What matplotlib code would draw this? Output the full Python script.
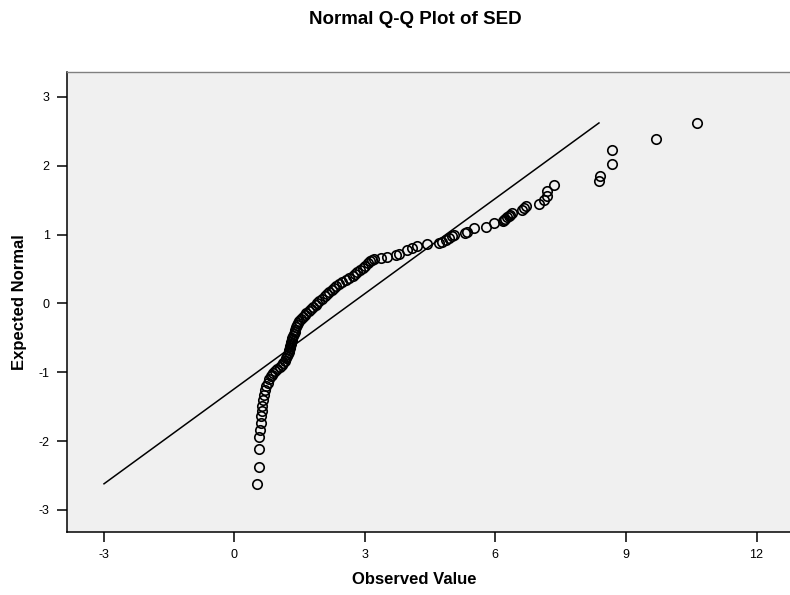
import matplotlib
matplotlib.use("Agg")
import matplotlib.pyplot as plt

plt.rcParams['font.family'] = ['Liberation Sans', 'DejaVu Sans']

title = "Normal Q-Q Plot of SED"
x_label = "Observed Value"
y_label = "Expected Normal"
x_ticks = [-3, 0, 3, 6, 9, 12]
y_ticks = [-3, -2, -1, 0, 1, 2, 3]

# lower tail (observed, expected normal)
obs_low = [0.53, 0.57, 0.58, 0.58, 0.60, 0.61, 0.62, 0.63, 0.64, 0.66, 0.69, 0.71,
           0.74, 0.77, 0.81, 0.85]
exp_low = [-2.62, -2.38, -2.11, -1.94, -1.84, -1.73, -1.64, -1.57, -1.49, -1.41,
           -1.33, -1.26, -1.20, -1.15, -1.10, -1.06]

# dense central band
obs_mid = [0.87, 0.90, 0.94, 0.99, 1.05, 1.09, 1.13, 1.17, 1.20, 1.22, 1.24, 1.25,
           1.26, 1.28, 1.28, 1.30, 1.31, 1.32, 1.33, 1.35, 1.37, 1.39, 1.40, 1.42,
           1.44, 1.46, 1.49, 1.53, 1.57, 1.62, 1.66, 1.72, 1.76, 1.81, 1.87, 1.91,
           1.96, 2.02, 2.08, 2.14, 2.19, 2.25, 2.30, 2.35, 2.41, 2.47, 2.56, 2.64,
           2.72, 2.77, 2.83, 2.88, 2.95, 3.01, 3.07, 3.12, 3.16, 3.21]
exp_mid = [-1.04, -1.01, -0.98, -0.95, -0.92, -0.89, -0.86, -0.83, -0.80, -0.77,
           -0.74, -0.71, -0.68, -0.65, -0.62, -0.59, -0.56, -0.53, -0.50, -0.47,
           -0.44, -0.41, -0.38, -0.35, -0.32, -0.29, -0.26, -0.23, -0.20, -0.17,
           -0.14, -0.11, -0.08, -0.05, -0.02, 0.01, 0.04, 0.07, 0.10, 0.13, 0.16,
           0.19, 0.22, 0.25, 0.28, 0.31, 0.34, 0.37, 0.40, 0.43, 0.46, 0.49, 0.52,
           0.55, 0.58, 0.61, 0.63, 0.65]

# upper tail
obs_high = [3.37, 3.52, 3.72, 3.79, 3.98, 4.09, 4.20, 4.43, 4.71, 4.78, 4.87, 4.94,
            5.01, 5.05, 5.30, 5.34, 5.51, 5.78, 5.97, 6.17, 6.20, 6.23, 6.27, 6.31,
            6.34, 6.38, 6.62, 6.66, 6.70, 7.00, 7.11, 7.18, 7.18, 7.34, 8.37, 8.41,
            8.68, 8.68, 9.70, 10.64]
exp_high = [0.66, 0.68, 0.70, 0.72, 0.77, 0.81, 0.84, 0.86, 0.87, 0.89, 0.92, 0.95,
            0.98, 0.99, 1.02, 1.04, 1.09, 1.11, 1.16, 1.19, 1.21, 1.23, 1.25, 1.27,
            1.29, 1.31, 1.35, 1.38, 1.41, 1.44, 1.50, 1.56, 1.63, 1.72, 1.77, 1.85,
            2.02, 2.23, 2.38, 2.62]

# reference line end points (observed, expected)
line_obs = [-2.99, 8.38]
line_exp = [-2.62, 2.62]

observed = obs_low + obs_mid + obs_high
expected = exp_low + exp_mid + exp_high

fig = plt.figure(figsize=(7.9, 5.95), dpi=100)
ax = fig.add_axes([67 / 790, 1 - 532 / 595, 1 - 67 / 790 + 0.01, (532 - 72) / 595])
ax.set_facecolor('#f0f0f0')

ax.plot(line_obs, line_exp, color='black', lw=1.1, zorder=2)
ax.plot(observed, expected, linestyle='none', marker='o', markersize=6.8,
        markerfacecolor='none', markeredgecolor='black', markeredgewidth=1.2, zorder=3)

ax.set_xlim(-3.84, 12.95)
ax.set_ylim(-3.32, 3.36)
ax.set_xticks(x_ticks)
ax.set_yticks(y_ticks)
ax.set_xticklabels([str(t) for t in x_ticks])
ax.set_yticklabels([str(t) for t in y_ticks])
ax.tick_params(axis='both', direction='out', length=7.5, width=1.1, color='black',
               labelsize=9, pad=5)

for s in ['left', 'bottom']:
    ax.spines[s].set_color('black')
    ax.spines[s].set_linewidth(1.1)
for s in ['top', 'right']:
    ax.spines[s].set_color('#808080')
    ax.spines[s].set_linewidth(1.0)

fig.text(415 / 790, 1 - 20 / 595, title, ha='center', va='center',
         fontsize=13.5, fontweight='bold')
fig.text(414 / 790, 1 - 580 / 595, x_label, ha='center', va='center',
         fontsize=12, fontweight='bold')
fig.text(20 / 790, 1 - 302 / 595, y_label, ha='center', va='center',
         fontsize=12, fontweight='bold', rotation=90)

fig.savefig('out.png', dpi=100)
